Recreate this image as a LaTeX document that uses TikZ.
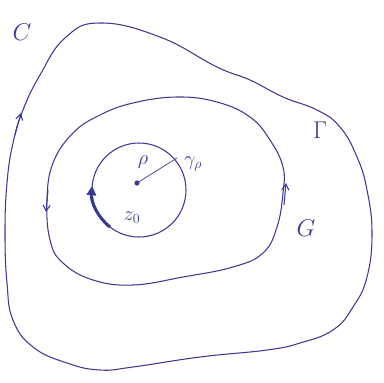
\documentclass[tikz,border=0pt]{standalone}
\usetikzlibrary{arrows.meta}

\begin{document}
\begin{tikzpicture}[x=0.03cm, y=-0.03cm]
    % Define colours
    \definecolor{inkColour}{HTML}{3B3A8E}

    % Define styles
    \tikzset{
        contour/.style={draw=inkColour, line width=0.9pt},
        flow/.style={draw=inkColour, line width=0.9pt, -{Straight Barb[length=5pt, width=6pt]}},
        label/.style={text=inkColour, font=\huge},
        smalllabel/.style={text=inkColour, font=\LARGE}
    }

    % Fix the frame
    \useasboundingbox (0,0) rectangle (384,382);

    % Draw the outer curve C
    \draw[contour] plot[smooth cycle, tension=0.75] coordinates {
        (100,23) (160,37) (217,67) (250,80) (283,97)
        (317,110) (340,127) (357,157) (367,190) (372,233) (367,277)
        (353,307) (333,330) (300,343) (267,350) (200,357) (133,367)
        (100,370) (67,363) (33,347) (13,320) (7,283) (5,233) (7,183)
        (13,143) (23,110) (40,75) (65,38)};

    % Draw the middle curve Gamma
    \draw[contour] plot[smooth cycle, tension=0.7] coordinates {
        (177,97) (217,102) (250,117) (270,140) (283,167) (283,193)
        (277,227) (263,253) (233,267) (183,277) (133,285) (93,280)
        (63,263) (50,240) (47,200) (53,163) (73,133) (100,115) (133,103)};

    % Draw the small circle
    \coordinate (centre) at (139,190);
    \draw[contour] (centre) circle[radius=47];

    % Mark the arrows on the curves
    \coordinate (outerTail) at (15,135);
    \coordinate (outerHead) at (21,113);
    \draw[flow] (outerTail) -- (outerHead);
    \coordinate (leftTail) at (48,190);
    \coordinate (leftHead) at (46,212);
    \draw[flow] (leftTail) -- (leftHead);
    \coordinate (rightTail) at (284,205);
    \coordinate (rightHead) at (286,183);
    \draw[flow] (rightTail) -- (rightHead);

    % Draw the thick arrow on the small circle
    \draw[draw=inkColour, line width=2.6pt, -{Triangle[length=8pt, width=8pt]}]
        ([shift={(128:47)}]centre) arc[start angle=128, end angle=185, radius=47];

    % Draw the centre point and the radius
    \fill[inkColour] (137,183) circle[radius=2.6] coordinate (zZero);
    \coordinate (rim) at (177,158);
    \draw[inkColour, line width=0.6pt] (zZero) -- (rim);

    % Label the figure
    \node[label] (labelC) at (22,32) {$C$};
    \node[label] (labelGamma) at (320,130) {$\Gamma$};
    \node[label] (labelG) at (306,228) {$G$};
    \node[smalllabel] (labelRho) at (143,162) {$\rho$};
    \node[smalllabel] (labelGammaRho) at (193,164) {$\gamma_\rho$};
    \node[smalllabel] (labelZ) at (132,218) {$z_0$};
\end{tikzpicture}
\end{document}
